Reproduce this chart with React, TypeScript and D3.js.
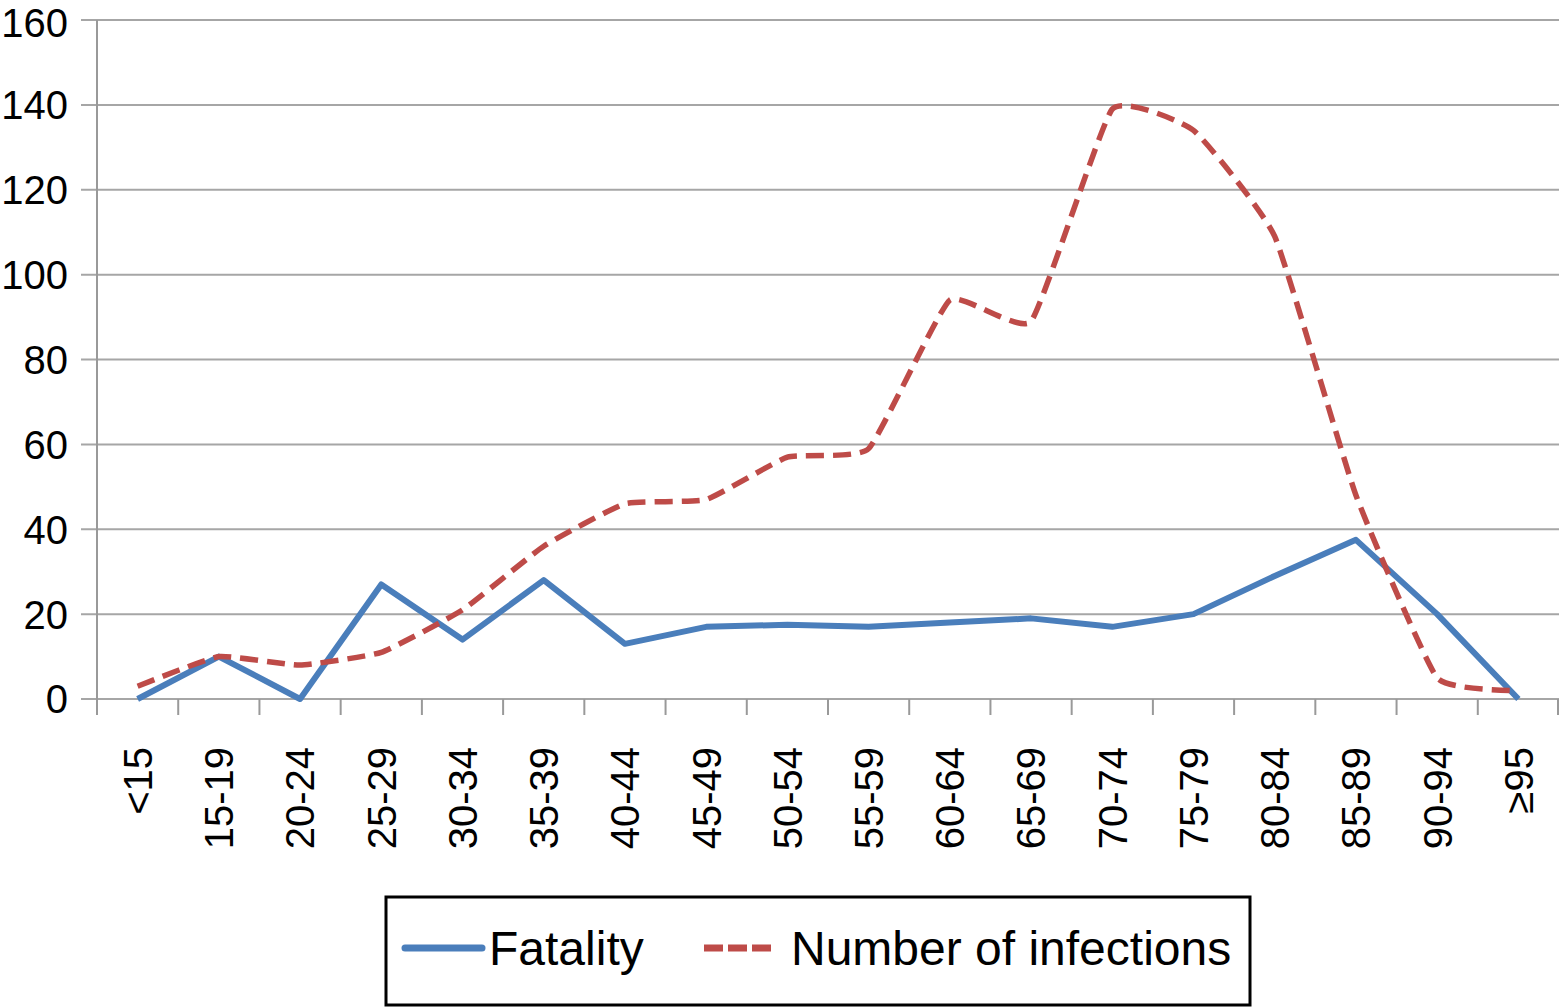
import { useEffect, useRef } from 'react'
import * as d3 from 'd3'

const ageGroups = [
  '<15', '15-19', '20-24', '25-29', '30-34', '35-39', '40-44', '45-49', '50-54',
  '55-59', '60-64', '65-69', '70-74', '75-79', '80-84', '85-89', '90-94', '\u226595',
]
const fatality = [0, 10, 0, 27, 14, 28, 13, 17, 17.5, 17, 18, 19, 17, 20, 29, 37.5, 20, 0]
const infections = [3, 10, 8, 11, 21, 36, 46, 47, 57, 59, 94, 89, 139, 134, 109, 48, 5, 2]
const yTicks = [0, 20, 40, 60, 80, 100, 120, 140, 160]

const W = 1559
const H = 1007
const FONT = '"Liberation Sans", Arial, Helvetica, sans-serif'
const BLUE = '#4a7ebb'
const RED = '#be4b48'
const GRID = '#a6a6a6'

export default function App() {
  const ref = useRef<SVGSVGElement>(null)

  useEffect(() => {
    if (!ref.current) return
    const svg = d3.select(ref.current)
    svg.selectAll('*').remove()

    const left = 97
    const right = 1559
    const top = 20
    const bottom = 699

    const x = d3.scaleBand<string>().domain(ageGroups).range([left, right])
    const cx = (d: string) => x(d)! + x.bandwidth() / 2
    const y = d3.scaleLinear().domain([0, 160]).range([bottom, top])

    // ── gridlines + y labels ──────────────────────────────────────────
    yTicks.forEach((t) => {
      svg
        .append('line')
        .attr('x1', left - 16)
        .attr('x2', right)
        .attr('y1', y(t))
        .attr('y2', y(t))
        .attr('stroke', GRID)
        .attr('stroke-width', 2)

      svg
        .append('text')
        .attr('x', 68)
        .attr('y', y(t))
        .attr('dy', t === 160 ? '0.42em' : '0.36em')
        .attr('text-anchor', 'end')
        .style('font-family', FONT)
        .style('font-size', '40px')
        .style('fill', '#000')
        .text(t)
    })

    // ── y axis line ───────────────────────────────────────────────────
    svg
      .append('line')
      .attr('x1', left)
      .attr('x2', left)
      .attr('y1', top)
      .attr('y2', bottom + 16)
      .attr('stroke', '#999')
      .attr('stroke-width', 2)

    // ── x ticks at band edges ─────────────────────────────────────────
    const edges = ageGroups.map((d) => x(d)!).concat([right - 1])
    edges.forEach((ex) => {
      svg
        .append('line')
        .attr('x1', ex)
        .attr('x2', ex)
        .attr('y1', bottom)
        .attr('y2', bottom + 16)
        .attr('stroke', '#999')
        .attr('stroke-width', 2)
    })

    // ── x labels, rotated ─────────────────────────────────────────────
    ageGroups.forEach((d) => {
      svg
        .append('text')
        .attr('transform', `translate(${cx(d)},747) rotate(-90)`)
        .attr('dy', '0.36em')
        .attr('text-anchor', 'end')
        .style('font-family', FONT)
        .style('font-size', '40px')
        .style('fill', '#000')
        .text(d)
    })

    // ── series ────────────────────────────────────────────────────────
    const lineInf = d3
      .line<number>()
      .x((_, i) => cx(ageGroups[i]))
      .y((v) => y(v))
      .curve(d3.curveCardinal.tension(0.6))

    const lineFat = d3
      .line<number>()
      .x((_, i) => cx(ageGroups[i]))
      .y((v) => y(v))

    svg
      .append('path')
      .attr('d', lineFat(fatality)!)
      .attr('fill', 'none')
      .attr('stroke', BLUE)
      .attr('stroke-width', 6)
      .attr('stroke-linejoin', 'round')

    svg
      .append('path')
      .attr('d', lineInf(infections)!)
      .attr('fill', 'none')
      .attr('stroke', RED)
      .attr('stroke-width', 5.5)
      .attr('stroke-dasharray', '18,9')

    // ── legend ────────────────────────────────────────────────────────
    svg
      .append('rect')
      .attr('x', 386)
      .attr('y', 897)
      .attr('width', 864)
      .attr('height', 108)
      .attr('fill', '#fff')
      .attr('stroke', '#000')
      .attr('stroke-width', 3)

    const ly = 948
    svg
      .append('line')
      .attr('x1', 405)
      .attr('x2', 482)
      .attr('y1', ly)
      .attr('y2', ly)
      .attr('stroke', BLUE)
      .attr('stroke-width', 7)
      .attr('stroke-linecap', 'round')

    svg
      .append('text')
      .attr('x', 489)
      .attr('y', ly)
      .attr('dy', '0.36em')
      .style('font-family', FONT)
      .style('font-size', '48px')
      .text('Fatality')

    svg
      .append('line')
      .attr('x1', 704)
      .attr('x2', 771)
      .attr('y1', ly)
      .attr('y2', ly)
      .attr('stroke', RED)
      .attr('stroke-width', 7)
      .attr('stroke-dasharray', '19,5')

    svg
      .append('text')
      .attr('x', 791)
      .attr('y', ly)
      .attr('dy', '0.36em')
      .style('font-family', FONT)
      .style('font-size', '48px')
      .text('Number of infections')
  }, [])

  return (
    <svg
      ref={ref}
      width={W}
      height={H}
      style={{ position: 'absolute', left: 0, top: 0, background: '#fff' }}
    />
  )
}
